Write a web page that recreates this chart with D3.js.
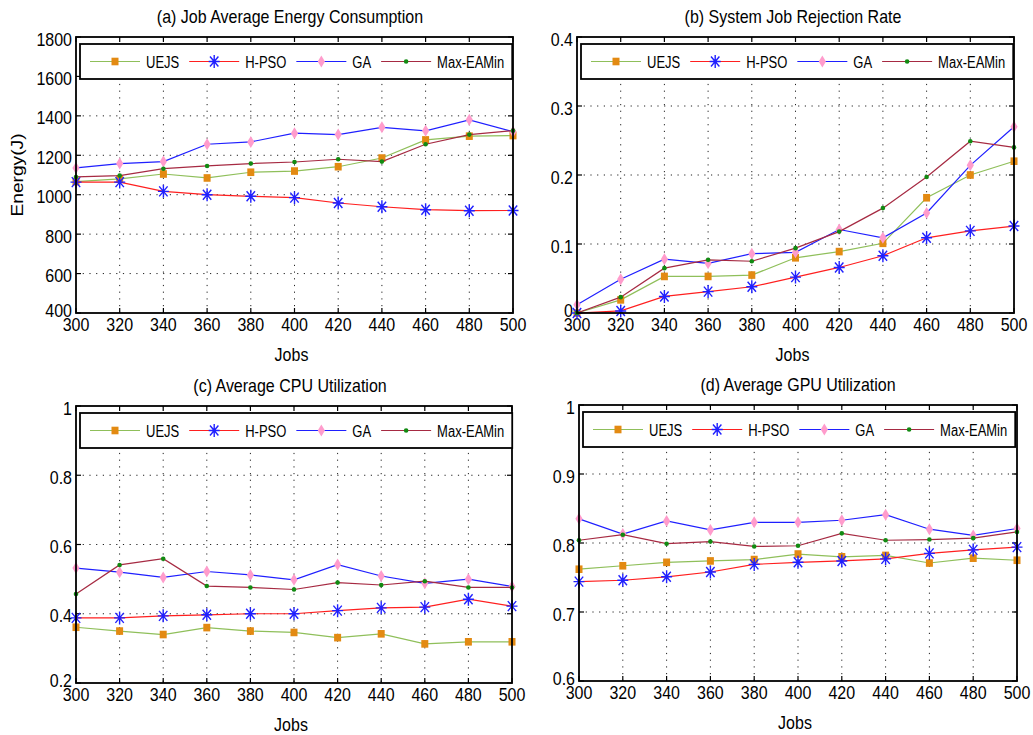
<!DOCTYPE html>
<html><head><meta charset="utf-8">
<script src="https://cdn.jsdelivr.net/npm/d3@7"></script>
<style>
body{margin:0;background:#fff}
text{font-family:"Liberation Sans",Arial,Helvetica,sans-serif;fill:#000}
</style>
</head><body>
<svg id="chart" width="1033" height="735"></svg>
<script>
// ---------- data ----------
const jobs = [300,320,340,360,380,400,420,440,460,480,500];
const seriesNames = ["UEJS","H-PSO","GA","Max-EAMin"];

const energyUEJS = [1066,1080,1105,1085,1114,1120,1142,1186,1278,1297,1300];
const energyHPSO = [1064,1064,1017,1000,992,985,958,939,924,919,920];
const energyGA   = [1136,1158,1168,1256,1268,1312,1305,1342,1324,1380,1320];
const energyMax  = [1090,1097,1132,1146,1158,1166,1180,1168,1256,1305,1325];

const rejectUEJS = [0,0.019,0.053,0.053,0.055,0.080,0.089,0.101,0.167,0.200,0.220];
const rejectHPSO = [0,0.003,0.024,0.031,0.038,0.052,0.066,0.083,0.109,0.119,0.126];
const rejectGA   = [0.012,0.049,0.078,0.072,0.086,0.088,0.121,0.109,0.145,0.214,0.270];
const rejectMax  = [0,0.023,0.065,0.077,0.075,0.094,0.118,0.152,0.197,0.249,0.240];

const cpuUEJS = [0.361,0.350,0.340,0.360,0.350,0.346,0.331,0.342,0.313,0.319,0.319];
const cpuHPSO = [0.388,0.388,0.394,0.397,0.400,0.400,0.409,0.417,0.419,0.442,0.422];
const cpuGA   = [0.532,0.520,0.505,0.522,0.512,0.498,0.542,0.509,0.488,0.500,0.479];
const cpuMax  = [0.457,0.541,0.559,0.480,0.476,0.470,0.490,0.483,0.494,0.476,0.476];

const gpuUEJS = [0.762,0.767,0.772,0.774,0.776,0.784,0.780,0.782,0.771,0.778,0.775];
const gpuHPSO = [0.744,0.746,0.751,0.758,0.769,0.772,0.774,0.777,0.785,0.790,0.794];
const gpuGA   = [0.835,0.813,0.832,0.819,0.830,0.830,0.833,0.841,0.820,0.811,0.821];
const gpuMax  = [0.804,0.812,0.799,0.802,0.795,0.796,0.814,0.804,0.805,0.807,0.816];

const energyTicks = [400,600,800,1000,1200,1400,1600,1800];
const rejectTicks = [0,0.1,0.2,0.3,0.4];
const cpuTicks = [0.2,0.4,0.6,0.8,1];
const gpuTicks = [0.6,0.7,0.8,0.9,1];

const titles = ["(a) Job Average Energy Consumption","(b) System Job Rejection Rate",
                "(c) Average CPU Utilization","(d) Average GPU Utilization"];

// ---------- styles ----------
const lineColors = ["#8fbf5a","#ff1f1f","#1f1fff","#a62a42"];
const markerTypes = ["square","star","diamond","dot"];

const panels = [
  {title:titles[0], series:[energyUEJS,energyHPSO,energyGA,energyMax], ticks:energyTicks,
   domain:[400,1800], box:{l:76,r:513,t:37,b:313}, titleX:290, ylabel:"Energy(J)"},
  {title:titles[1], series:[rejectUEJS,rejectHPSO,rejectGA,rejectMax], ticks:rejectTicks,
   domain:[0,0.4], box:{l:577,r:1014,t:37,b:313}, titleX:793},
  {title:titles[2], series:[cpuUEJS,cpuHPSO,cpuGA,cpuMax], ticks:cpuTicks,
   domain:[0.2,1], box:{l:76,r:512,t:406,b:683}, titleX:290},
  {title:titles[3], series:[gpuUEJS,gpuHPSO,gpuGA,gpuMax], ticks:gpuTicks,
   domain:[0.6,1], box:{l:579,r:1017,t:405,b:681}, titleX:798}
];

const svg = d3.select("#chart");
svg.append("rect").attr("width",1033).attr("height",735).attr("fill","#fff");

function txt(g, x, y, s, size, anchor, extra){
  return g.append("text")
    .attr("transform", `translate(${x},${y}) scale(1,1.2)` + (extra||""))
    .attr("text-anchor", anchor)
    .style("font-size", size + "px")
    .text(s);
}

function drawMarker(g, type, x, y){
  if(type==="square"){
    g.append("rect").attr("x",x-3.5).attr("y",y-3.8).attr("width",7).attr("height",7.6)
      .attr("fill","#e38a12");
  } else if(type==="star"){
    const r=5.5, rv=6.5, d=4.2, dv=5;
    g.append("path")
      .attr("d",`M${x-r},${y}L${x+r},${y}M${x},${y-rv}L${x},${y+rv}M${x-d},${y-dv}L${x+d},${y+dv}M${x-d},${y+dv}L${x+d},${y-dv}`)
      .attr("stroke","#2020ff").attr("stroke-width",1.4).attr("fill","none");
  } else if(type==="diamond"){
    g.append("path")
      .attr("d",`M${x},${y-6}L${x+3.6},${y}L${x},${y+6}L${x-3.6},${y}Z`)
      .attr("fill","#ff9ccc");
  } else {
    g.append("circle").attr("cx",x).attr("cy",y).attr("r",2.3).attr("fill","#128a12");
  }
}

panels.forEach(p => {
  const b = p.box;
  const g = svg.append("g");
  const x = d3.scaleLinear().domain([300,500]).range([b.l,b.r]);
  const y = d3.scaleLinear().domain(p.domain).range([b.b,b.t]);

  // grid
  const grid = g.append("g").attr("stroke","#222").attr("stroke-width",1)
    .attr("stroke-dasharray","1.2,5.5");
  jobs.slice(1,-1).forEach(j => {
    grid.append("line").attr("x1",x(j)).attr("x2",x(j)).attr("y1",b.t).attr("y2",b.b);
  });
  p.ticks.slice(1,-1).forEach(t => {
    grid.append("line").attr("x1",b.l).attr("x2",b.r).attr("y1",y(t)).attr("y2",y(t));
  });

  // inner ticks
  const tk = g.append("g").attr("stroke","#000").attr("stroke-width",1.2);
  jobs.forEach(j => {
    tk.append("line").attr("x1",x(j)).attr("x2",x(j)).attr("y1",b.b).attr("y2",b.b-5);
    tk.append("line").attr("x1",x(j)).attr("x2",x(j)).attr("y1",b.t).attr("y2",b.t+5);
  });
  p.ticks.forEach(t => {
    tk.append("line").attr("x1",b.l).attr("x2",b.l+5).attr("y1",y(t)).attr("y2",y(t));
    tk.append("line").attr("x1",b.r).attr("x2",b.r-5).attr("y1",y(t)).attr("y2",y(t));
  });

  // tick labels
  const fmt = v => d3.format("~g")(v);
  jobs.forEach(j => txt(g, x(j), b.b+18, String(j), 16, "middle"));
  p.ticks.forEach((t,i) => txt(g, b.l-4, y(t) + (i===0 ? 4 : 8.5), fmt(t), 16, "end"));

  // series
  const line = d3.line().x((d,i)=>x(jobs[i])).y(d=>y(d));
  p.series.forEach((s,k) => {
    g.append("path").datum(s).attr("d",line).attr("fill","none")
      .attr("stroke",lineColors[k]).attr("stroke-width",1.2);
    s.forEach((v,i) => drawMarker(g, markerTypes[k], x(jobs[i]), y(v)));
  });

  // frame
  g.append("rect").attr("x",b.l).attr("y",b.t).attr("width",b.r-b.l).attr("height",b.b-b.t)
    .attr("fill","none").attr("stroke","#000").attr("stroke-width",1.8);

  // legend
  const lg = g.append("g");
  const lx = b.l+4, ly = b.t+7, lh = 35, cy = ly + lh/2;
  const box = lg.append("rect").attr("x",lx).attr("y",ly).attr("height",lh)
    .attr("fill","#fff").attr("stroke","#000").attr("stroke-width",1.8);
  let cx = lx + 10;
  seriesNames.forEach((n,k) => {
    lg.append("line").attr("x1",cx).attr("x2",cx+50).attr("y1",cy).attr("y2",cy)
      .attr("stroke",lineColors[k]).attr("stroke-width",1.2);
    drawMarker(lg, markerTypes[k], cx+25, cy);
    const t = txt(lg, cx+56, cy+6.2, n, 13, "start");
    cx = cx + 56 + t.node().getComputedTextLength() + 10;
  });
  box.attr("width", cx - 2 - lx);
  box.lower();

  // title, x label
  txt(g, p.titleX, b.t-14, p.title, 16, "middle");
  txt(g, (b.l+b.r)/2 - 3, b.b+48, "Jobs", 16, "middle");
  if(p.ylabel){
    txt(g, 23, 175, p.ylabel, 16, "middle", " rotate(-90)");
  }
});
</script>
</body></html>
